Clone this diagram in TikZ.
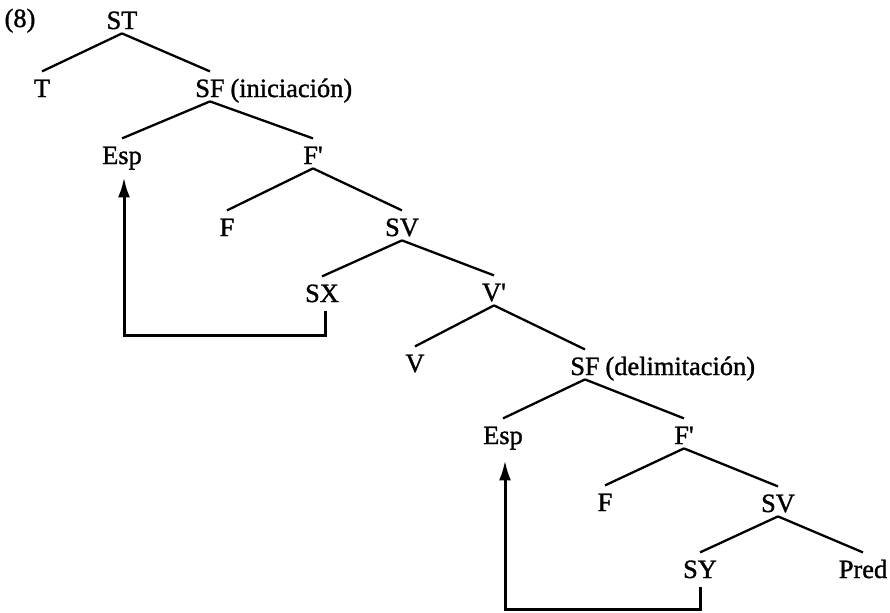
\documentclass[tikz,border=0pt]{standalone}
\usepackage{fontspec}
\setmainfont{Liberation Serif}
\newfontfamily\treefont[FakeBold=1.2]{Liberation Serif}
\usetikzlibrary{arrows.meta}
\begin{document}
\begin{tikzpicture}[x=0.5pt,y=-0.5pt,
  tn/.style={anchor=base,font=\treefont\fontsize{13.2}{15}\selectfont,text height=10.6pt,text depth=0pt,inner xsep=1pt,inner ysep=2pt},
  lab/.style={font=\treefont\fontsize{13.2}{15}\selectfont,text height=10.6pt,text depth=0pt,inner xsep=1pt,inner ysep=2pt},
  branch/.style={line width=1.15pt},
  move/.style={line width=1.5pt,-{Latex[length=10pt,width=6pt]}}]
\useasboundingbox (0,0) rectangle (890,612);
% nodes
\node[tn] (num) at (20,27) {(8)};
\node[tn] (ST) at (122,29) {ST};
\node[tn] (T) at (42,97) {T};
\node[tn,label={[lab,label distance=0.5pt]east:(iniciación)}] (SFa) at (210,97) {SF};
\node[tn] (Espa) at (122,164) {Esp};
\node[tn] (Fpa) at (313,164) {F\textquotesingle};
\node[tn] (Fa) at (227,236) {F};
\node[tn] (SVa) at (402,236) {SV};
\node[tn] (SX) at (322,302) {SX};
\node[tn] (Vpa) at (494,301) {V\textquotesingle};
\node[tn] (V) at (415,372) {V};
\node[tn,label={[lab,label distance=0.5pt]east:(delimitación)}] (SFb) at (585,375) {SF};
\node[tn] (Espb) at (503,444) {Esp};
\node[tn] (Fpb) at (684,444) {F\textquotesingle};
\node[tn] (Fb) at (605,511) {F};
\node[tn] (SVb) at (778,512) {SV};
\node[tn] (SY) at (700,578) {SY};
\node[tn] (Pred) at (863,578) {Pred};
% branches
\foreach \p/\c in {ST/T,ST/SFa,SFa/Espa,SFa/Fpa,Fpa/Fa,Fpa/SVa,SVa/SX,SVa/Vpa,Vpa/V,Vpa/SFb,SFb/Espb,SFb/Fpb,Fpb/Fb,Fpb/SVb,SVb/SY,SVb/Pred}
  \draw[branch] (\p.south) -- (\c.north);
% movement arrows
\coordinate (ba) at (0,335);
\coordinate (bb) at (0,609);
\draw[move,shorten >=4.5pt] ([yshift=-2.5pt,xshift=1.5pt]SX.south) -- ([xshift=1.5pt]SX.south |- ba) -- ([xshift=1pt]Espa.south |- ba) -- ([xshift=1pt]Espa.south);
\draw[move,shorten >=6pt] ([yshift=-2.5pt]SY.south) -- (SY.south |- bb) -- ([xshift=1pt]Espb.south |- bb) -- ([xshift=1pt]Espb.south);
\end{tikzpicture}
\end{document}
